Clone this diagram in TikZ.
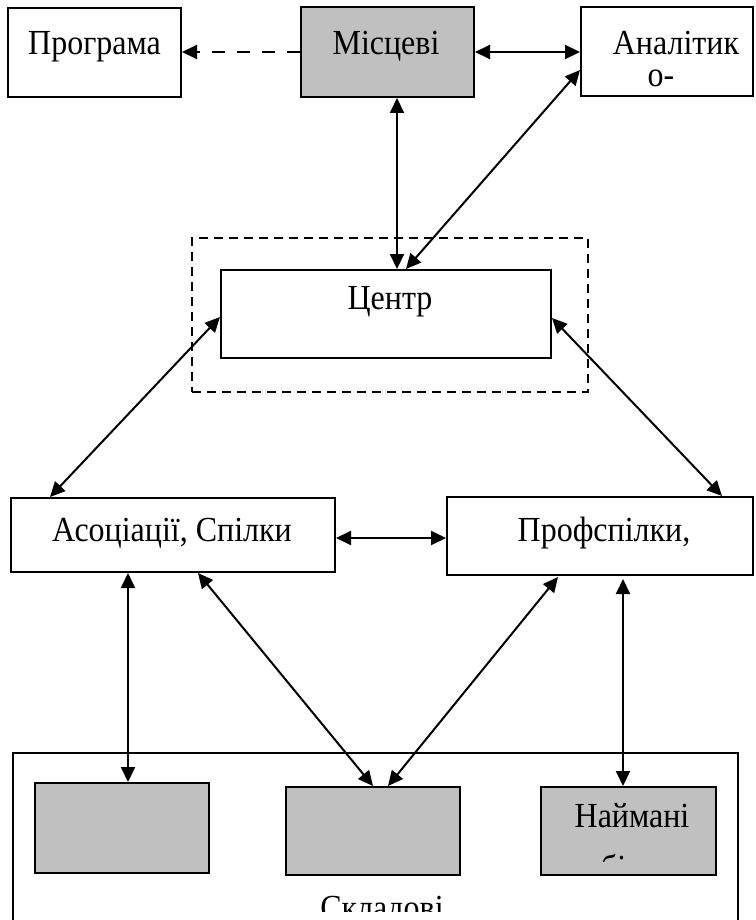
\documentclass[tikz,border=0pt]{standalone}
\usepackage{fontspec}
\usepackage{graphicx}
\setmainfont{Liberation Serif}
\usetikzlibrary{arrows.meta}
\definecolor{boxgray}{HTML}{C0C0C0}
\newcommand\talltext[1]{\scalebox{1}[1.1]{#1}}
\begin{document}
\begin{tikzpicture}[x=1pt,y=-1pt,
  box/.style={draw=black,line width=2pt,rectangle,inner sep=0pt},
  gbox/.style={box,fill=boxgray},
  lbl/.style={inner sep=0pt,anchor=base,font=\fontsize{32pt}{38pt}\selectfont},
  dbl/.style={line width=2pt,{Triangle[length=15pt,width=14pt]}-{Triangle[length=15pt,width=14pt]}},
  one/.style={line width=2pt,-{Triangle[length=15pt,width=14pt]}}]
\clip (0,0) rectangle (755,920);
\fill[white] (0,0) rectangle (755,920);
% top row
\node[box,minimum width=173pt,minimum height=89pt] (prog) at (94.5,52.5) {};
\node[gbox,minimum width=173pt,minimum height=90pt] (misc) at (387.5,52) {};
\node[box,minimum width=172pt,minimum height=89pt] (anal) at (667,51.5) {};
\node[lbl] (tprog) at (94.5,55) {\talltext{Програма}};
\node[lbl] (tmisc) at (386,55) {\talltext{Місцеві}};
\node[lbl] (tanal) at (676,55) {\talltext{Аналітик}};
\node[lbl] (tanal2) at (661,87) {\talltext{о-}};
% centre
\node[draw=black,line width=1.5pt,dash pattern=on 9pt off 6pt,rectangle,inner sep=0pt,minimum width=396pt,minimum height=154pt] (dash) at (390,315) {};
\node[box,minimum width=330pt,minimum height=88pt] (centr) at (386,314) {};
\node[lbl] (tcentr) at (390,309) {\talltext{Центр}};
% middle row
\node[box,minimum width=324pt,minimum height=74pt] (asoc) at (173,535) {};
\node[box,minimum width=306pt,minimum height=78pt] (prof) at (600,536) {};
\node[lbl] (tasoc) at (172,541) {\talltext{Асоціації, Спілки}};
\node[lbl] (tprof) at (604,541) {\talltext{Профспілки,}};
% bottom
\node[draw=black,line width=1.6pt,rectangle,inner sep=0pt,minimum width=725pt,minimum height=220pt] (outer) at (375.5,863) {};
\node[gbox,minimum width=174pt,minimum height=90pt] (b1) at (122,828) {};
\node[gbox,minimum width=174pt,minimum height=88pt] (b2) at (373,831) {};
\node[gbox,minimum width=175pt,minimum height=88pt] (b3) at (628.5,831) {};
\node[lbl] (tb3) at (632,827) {\talltext{Наймані}};
\begin{scope}
\clip (541,787) rectangle (716,861);
\node[lbl] (tb3b) at (638,879) {\talltext{робітники}};
\end{scope}
\begin{scope}
\clip (13,753) rectangle (738,911);
\node[lbl] (touter) at (382,919) {\talltext{Складові}};
\end{scope}
% connectors
\draw[one,dash pattern=on 13pt off 12pt] (misc.west) -- (misc.west -| prog.east);
\draw[dbl] (misc.east) -- (misc.east -| anal.west);
\draw[dbl] ([xshift=9.5pt]misc.south) -- ([xshift=9.5pt]misc.south |- centr.north);
\draw[dbl] ([yshift=-18.5pt]anal.west) -- ([xshift=20pt]centr.north);
\draw[dbl] ([yshift=-3pt]centr.west) -- ([xshift=-123pt]asoc.north);
\draw[dbl] ([yshift=-4pt]centr.east) -- ([xshift=122pt]prof.north);
\draw[dbl] ([yshift=-3pt]asoc.east) -- ([yshift=-3pt]asoc.east -| prof.west);
\draw[dbl] ([xshift=-45pt]asoc.south) -- ([xshift=-45pt]asoc.south |- b1.north);
\draw[dbl] ([xshift=25pt]asoc.south) -- (b2.north);
\draw[dbl] ([xshift=-42pt,yshift=-1pt]prof.south) -- ([xshift=15pt]b2.north);
\draw[dbl] ([xshift=23pt,yshift=-3pt]prof.south) -- ([xshift=-5.5pt]b3.north);
\end{tikzpicture}
\end{document}
